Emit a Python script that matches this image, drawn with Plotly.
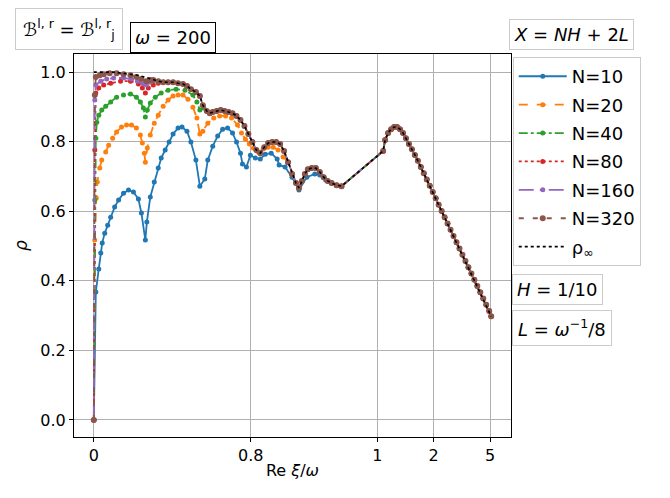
import plotly.graph_objects as go

# x is given as position along the (non-uniform) Re xi/omega axis: 0..100
X_TICK_POS = [0, 39.6, 71.5, 85.7, 100]
X_TICK_TEXT = ["0", "0.8", "1", "2", "5"]
Y_TICKS = [0.0, 0.2, 0.4, 0.6, 0.8, 1.0]

# upper envelope shared by the fine meshes
ENV_S = [15, 16.25, 17.5, 18.75, 20, 21.25, 22.5, 23.5, 24.5]
ENV_R = [0.977, 0.974, 0.971, 0.971, 0.971, 0.968, 0.966, 0.960, 0.951]

MID_S = [25.75, 26.75, 27.5, 28.5, 29.25, 30, 31, 32, 33, 34, 35, 36, 37, 38, 39, 40,
         41, 42, 43, 44, 45, 46, 47, 48, 49, 50, 51, 51.75, 52.5, 53.25, 54, 55, 56,
         57, 58, 59, 60, 61.25, 62.5]
MID_R = [0.943, 0.931, 0.905, 0.888, 0.882, 0.885, 0.888, 0.891, 0.888, 0.885, 0.882,
         0.874, 0.862, 0.845, 0.822, 0.799, 0.776, 0.767, 0.784, 0.796, 0.799, 0.799,
         0.793, 0.773, 0.741, 0.707, 0.681, 0.667, 0.687, 0.707, 0.721, 0.724, 0.724,
         0.713, 0.698, 0.687, 0.681, 0.675, 0.672]

TAIL_S = [73, 73.5, 74.25, 75, 75.75, 76.5, 77.25, 78, 78.75, 79.5, 80.25, 81, 81.75,
          82.5, 83.25, 84, 84.75, 85.5, 86.25, 87, 87.75, 88.5, 89.25, 90, 90.75, 91.5,
          92.25, 93, 93.75, 94.5, 95.25, 96, 96.75, 97.5, 98.25, 99, 99.75, 100.25]
TAIL_R = [0.773, 0.805, 0.825, 0.836, 0.842, 0.842, 0.836, 0.825, 0.810, 0.793, 0.778,
          0.762, 0.745, 0.727, 0.709, 0.691, 0.673, 0.655, 0.637, 0.619, 0.601, 0.583,
          0.565, 0.547, 0.529, 0.511, 0.493, 0.475, 0.457, 0.439, 0.421, 0.403, 0.385,
          0.367, 0.349, 0.331, 0.313, 0.298]

SHARED_S = ENV_S + MID_S + TAIL_S
SHARED_R = ENV_R + MID_R + TAIL_R

# own part of each curve before it meets the envelope, and where it joins
N10_S = [0, 0.5, 1.25, 1.75, 2.125, 2.75, 3.5, 4.25, 5.25, 6.25, 7.5, 8.75, 10, 11.25, 12,
         13, 13.375, 14.25, 15.25, 16.25, 17, 18, 19, 20, 21.25, 22.25, 23.5, 24.5, 25.75,
         26.75, 28, 28.75, 30, 31.25, 32.5, 33.75, 35, 36, 37, 37.5, 38.5, 39.5, 40.75, 42,
         43.25, 44.75, 46.25, 46.75, 48.25, 50, 51.75, 53.75, 55.75, 57, 58.5]
N10_R = [0, 0.368, 0.434, 0.480, 0.509, 0.537, 0.560, 0.583, 0.612, 0.632, 0.652, 0.661,
         0.655, 0.635, 0.595, 0.517, 0.569, 0.641, 0.684, 0.724, 0.753, 0.776, 0.799, 0.822,
         0.839, 0.842, 0.830, 0.799, 0.747, 0.672, 0.693, 0.747, 0.787, 0.816, 0.836, 0.839,
         0.825, 0.799, 0.767, 0.736, 0.727, 0.761, 0.753, 0.750, 0.764, 0.767, 0.750, 0.733,
         0.727, 0.698, 0.661, 0.698, 0.707, 0.704, 0.690]
N10_JOIN = 60

N20_S = [0, 0.25, 0.625, 0.875, 1.5, 2, 3, 3.75, 4.75, 5.75, 7, 8.25, 9.5, 10.75, 11.75,
         12.25, 12.75, 13, 13.5, 14.25, 15.25, 16.25, 17.5, 18.75, 20, 21.25, 22.5, 23.75,
         25, 26, 26.75, 27.5, 28.75, 30.25, 31.75, 33.25, 34.75, 36.25, 37.25, 38.25,
         39.25, 40.25, 41.5, 42.75, 44, 45.25, 46.5, 47.75]
N20_R = [0, 0.517, 0.638, 0.684, 0.724, 0.747, 0.770, 0.790, 0.810, 0.828, 0.842, 0.848,
         0.848, 0.839, 0.819, 0.796, 0.767, 0.741, 0.782, 0.819, 0.853, 0.876, 0.902, 0.920,
         0.931, 0.934, 0.934, 0.922, 0.899, 0.868, 0.822, 0.830, 0.853, 0.868, 0.874, 0.874,
         0.868, 0.848, 0.825, 0.807, 0.793, 0.782, 0.770, 0.779, 0.784, 0.784, 0.776, 0.756]
N20_JOIN = 49

N40_S = [0, 0.25, 0.5, 0.75, 1.25, 2, 3, 4.25, 5.75, 7.5, 9.25, 10.75, 11.75, 12.5, 13,
         13.5, 14.25, 15.5, 17, 18.75, 20.75, 23, 25, 26, 26.75, 27.75]
N40_R = [0, 0.632, 0.810, 0.856, 0.876, 0.891, 0.902, 0.914, 0.928, 0.934, 0.937, 0.928,
         0.914, 0.897, 0.871, 0.891, 0.911, 0.928, 0.940, 0.948, 0.951, 0.948, 0.934, 0.914,
         0.891, 0.897]
N40_JOIN = 28.5

N80_S = [0, 0.25, 0.5, 1.25, 2.5, 4.25, 6.75, 9.25, 11.25, 12.25, 13, 13.75, 15, 16.25]
N80_R = [0, 0.776, 0.940, 0.954, 0.963, 0.968, 0.974, 0.974, 0.966, 0.954, 0.940, 0.954,
         0.963, 0.968]
N80_JOIN = 17.5

N160_S = [0, 0.25, 0.5, 1.75, 3.25, 5, 7.5, 9.5, 11, 12.5, 13.25, 14.25]
N160_R = [0, 0.920, 0.963, 0.974, 0.980, 0.983, 0.983, 0.980, 0.974, 0.966, 0.963, 0.971]
N160_JOIN = 15

N320_S = [0, 0.25, 0.5, 1.5, 2.5, 4, 5.75, 7.5, 9.25, 10.75, 12, 13.25, 14.25]
N320_R = [0, 0.934, 0.986, 0.991, 0.994, 0.997, 0.997, 0.994, 0.991, 0.986, 0.980, 0.974,
          0.977]
N320_JOIN = 15

INF_S = [0, 1.25, 3, 5, 7, 9, 11, 12.75, 14.25]
INF_R = [1.0, 1.0, 1.0, 1.0, 0.997, 0.994, 0.991, 0.986, 0.980]
INF_JOIN = 15


def join(head_s, head_r, start):
    s = list(head_s) + [v for v in SHARED_S if v >= start]
    r = list(head_r) + [r for v, r in zip(SHARED_S, SHARED_R) if v >= start]
    return s, r


series = [
    ("N=10", N10_S, N10_R, N10_JOIN, "#1f77b4", "solid", 5),
    ("N=20", N20_S, N20_R, N20_JOIN, "#ff7f0e", "dash", 5),
    ("N=40", N40_S, N40_R, N40_JOIN, "#2ca02c", "dashdot", 5),
    ("N=80", N80_S, N80_R, N80_JOIN, "#d62728", "dot", 5),
    ("N=160", N160_S, N160_R, N160_JOIN, "#9467bd", "longdashdot", 5),
    ("N=320", N320_S, N320_R, N320_JOIN, "#8c564b", "5px,9px", 6),
]

fig = go.Figure()
for name, hs, hr, start, color, dash, msize in series:
    s, r = join(hs, hr, start)
    fig.add_trace(go.Scatter(
        x=s, y=r, name=name, mode="lines+markers", legendgroup=name,
        line=dict(color=color, width=1.8, dash=dash),
        marker=dict(color=color, size=msize),
    ))

s, r = join(INF_S, INF_R, INF_JOIN)
fig.add_trace(go.Scatter(
    x=s, y=r, name="ρ<sub>∞</sub>", mode="lines", legendgroup="inf",
    line=dict(color="black", width=1.6, dash="dot"),
))

font = "DejaVu Sans"
axis_common = dict(
    showline=True, linecolor="black", linewidth=1, mirror=True,
    ticks="outside", ticklen=4, tickcolor="black",
    showgrid=True, gridcolor="#b0b0b0", gridwidth=1, zeroline=False,
    tickfont=dict(size=16, color="black"),
)
fig.update_xaxes(range=[-5, 105.25], tickvals=X_TICK_POS, ticktext=X_TICK_TEXT,
                 title=dict(text="Re <i>ξ</i>/<i>ω</i>", font=dict(size=16), standoff=0),
                 **axis_common)
fig.update_yaxes(range=[-0.049, 1.052], tickvals=Y_TICKS, tickformat=".1f",
                 title=dict(text="<i>ρ</i>", font=dict(size=17), standoff=8),
                 **axis_common)

box = dict(xref="paper", yref="paper", showarrow=False, bgcolor="white",
           borderwidth=1, font=dict(size=18, color="black"))
fig.add_annotation(text="ℬ<sup>l, r</sup> = ℬ<sup>l, r</sup><sub>j</sub>", x=-0.012, y=1.064,
                   xanchor="center", yanchor="middle", bordercolor="#cccccc", borderpad=7,
                   **box)
fig.add_annotation(text="<i>ω</i> = 200", x=0.227, y=1.042,
                   xanchor="center", yanchor="middle", bordercolor="black", borderpad=4,
                   **box)
fig.add_annotation(text="<i>X</i> = <i>NH</i> + 2<i>L</i>", x=0.996, y=1.052,
                   xanchor="left", yanchor="middle", bordercolor="#cccccc", borderpad=4,
                   **box)
fig.add_annotation(text="<i>H</i> = 1/10", x=1.002, y=0.386,
                   xanchor="left", yanchor="middle", bordercolor="#cccccc", borderpad=4,
                   **box)
fig.add_annotation(text="<i>L</i> = <i>ω</i><sup>−1</sup>/8", x=1.002, y=0.285,
                   xanchor="left", yanchor="middle", bordercolor="#cccccc", borderpad=5,
                   **box)

# the page puts the figure 8px in from the top-left corner
fig.update_layout(
    width=670, height=498,
    margin=dict(l=62, r=167, t=46, b=69),
    paper_bgcolor="white", plot_bgcolor="white",
    font=dict(family=font, color="black"),
    showlegend=True,
    legend=dict(x=1.004, y=0.992, xanchor="left", yanchor="top",
                bordercolor="#cccccc", borderwidth=1, bgcolor="white",
                font=dict(size=18), itemwidth=48, tracegroupgap=2),
)

fig.write_html("out.html")
